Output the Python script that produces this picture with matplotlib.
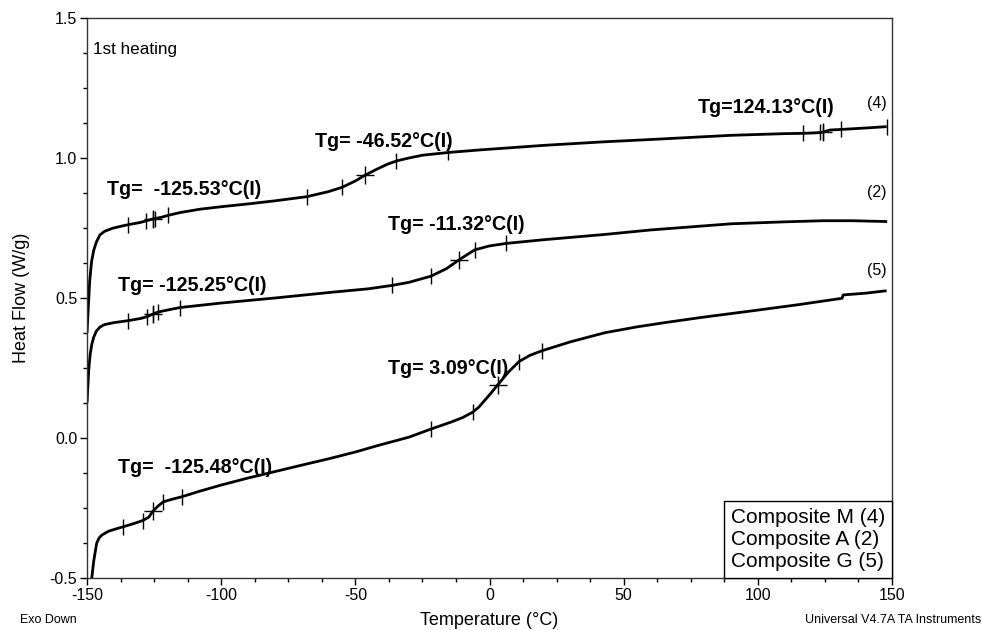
import numpy as np
import matplotlib
matplotlib.use("Agg")
import matplotlib.pyplot as plt
from matplotlib.ticker import MultipleLocator
from matplotlib.offsetbox import AnchoredText

plt.rcParams['font.family'] = ['Liberation Sans', 'DejaVu Sans']

# ---- data ----
T_M = [-150.0, -149.6, -149.0, -148.3, -147.5, -146.5, -145.2, -143.5, -140.5, -137.0,
       -134.0, -130.0, -127.5, -125.5, -122.0, -119.8, -115.4, -108, -100, -90, -80, -68,
       -60, -55, -50, -46.5, -42, -38, -34.5, -30, -25, -20, -15, -3.4, 4, 20, 43,
       60, 90, 110, 116.7, 122, 124, 127, 131, 140, 148]
HF_M = [0.375, 0.45, 0.56, 0.63, 0.67, 0.70, 0.725, 0.738, 0.749, 0.757,
        0.763, 0.770, 0.777, 0.782, 0.789, 0.795, 0.805, 0.817, 0.826, 0.836, 0.847, 0.862,
        0.880, 0.895, 0.918, 0.938, 0.960, 0.978, 0.990, 1.000, 1.010, 1.015, 1.020, 1.029, 1.034,
        1.045, 1.058, 1.066, 1.081, 1.087, 1.088, 1.090, 1.092, 1.100, 1.102, 1.107, 1.112]

T_A = [-150.0, -149.7, -149.3, -148.8, -148.2, -147.5, -146.5, -145.2, -143.5, -140, -134.7,
       -130, -127.7, -125.3, -123.5, -120, -115.3, -100, -80, -59.4, -45, -36.3, -30, -21.8,
       -16, -11.1, -5.5, 0, 6.3, 20, 43, 60, 90, 110, 124.3, 135, 148.2]
HF_A = [0.125, 0.18, 0.25, 0.30, 0.335, 0.36, 0.382, 0.396, 0.405, 0.412, 0.419,
        0.427, 0.433, 0.443, 0.450, 0.457, 0.466, 0.482, 0.500, 0.520, 0.533, 0.545, 0.556, 0.578,
        0.605, 0.638, 0.672, 0.686, 0.695, 0.708, 0.727, 0.743, 0.765, 0.772, 0.776,
        0.776, 0.773]

T_G = [-148.8, -148.3, -147.5, -146.4, -145.5, -144.5, -142, -139, -136.5, -133, -129.3,
       -127, -125.5, -123.5, -121.6, -118, -114.7, -108, -100, -90, -80, -70, -59.4, -50,
       -40.9, -30, -21.8, -14, -10, -6.3, -4, -2, 0, 3.0, 7, 11, 15, 20, 30, 43, 55, 66,
       80, 97, 115, 131.4, 131.8, 140, 148]
HF_G = [-0.55, -0.507, -0.44, -0.376, -0.357, -0.347, -0.333, -0.324, -0.317, -0.307, -0.295,
        -0.283, -0.262, -0.243, -0.228, -0.218, -0.210, -0.190, -0.168, -0.143, -0.120, -0.097,
        -0.073, -0.050, -0.025, 0.003, 0.032, 0.058, 0.073, 0.092, 0.110, 0.132, 0.154, 0.189,
        0.235, 0.273, 0.295, 0.313, 0.343, 0.376, 0.397, 0.413, 0.432, 0.453, 0.476, 0.499,
        0.511, 0.517, 0.526]

# analysis marks (temperatures) and Tg midpoints
ticks_M = [-134.6, -128.1, -125.3, -124.6, -119.7, -67.9, -54.8, -34.8, -15.3, 116.7, 123.2, 124.2, 130.9, 148]
tg_M = [-125.53, -46.52, 124.13]
ticks_A = [-134.6, -127.8, -125.3, -123.5, -115.3, -36.3, -21.8, -5.5, 6.1]
tg_A = [-125.25, -11.32]
ticks_G = [-136.5, -129.3, -121.6, -114.7, -21.8, -6.3, 11, 19.7]
tg_G = [-125.48, 3.09]

tg_labels = ["Tg=  -125.53°C(I)", "Tg= -46.52°C(I)", "Tg=124.13°C(I)",
             "Tg= -125.25°C(I)", "Tg= -11.32°C(I)",
             "Tg=  -125.48°C(I)", "Tg= 3.09°C(I)"]
tg_label_x = [-142.5, -65, 77.5, -138.5, -38, -138.5, -38]
tg_label_y = [0.886, 1.06, 1.18, 0.546, 0.764, -0.104, 0.25]

curve_ids = ["(4)", "(2)", "(5)"]
curve_id_y = [1.193, 0.875, 0.60]
legend_lines = ["Composite M (4)", "Composite A (2)", "Composite G (5)"]

# ---- figure ----
fig = plt.figure(figsize=(9.82, 6.30), dpi=100)
ax = fig.add_axes([87/982, 1-578/630, (892-87)/982, (578-18)/630])

for T, HF, tk, tg in [(T_M, HF_M, ticks_M, tg_M), (T_A, HF_A, ticks_A, tg_A), (T_G, HF_G, ticks_G, tg_G)]:
    ax.plot(T, HF, color='black', lw=2.0, solid_capstyle='butt')
    ax.plot(tk, np.interp(tk, T, HF), ls='none', marker='|', ms=12, mew=1.0, color='black')
    ax.plot(tg, np.interp(tg, T, HF), ls='none', marker='+', ms=13, mew=1.0, color='black')

for s, x, y in zip(tg_labels, tg_label_x, tg_label_y):
    ax.text(x, y, s, fontsize=14.2, fontweight='bold', ha='left', va='center')

for s, y in zip(curve_ids, curve_id_y):
    ax.text(148, y, s, fontsize=11.5, ha='right', va='center')

ax.text(-147.8, 1.386, "1st heating", fontsize=12.3, ha='left', va='center')

at = AnchoredText("\n".join(legend_lines), loc='lower right', frameon=True,
                  borderpad=0.0, pad=0.33, prop=dict(size=15, linespacing=1.2))
at.patch.set_edgecolor('black')
at.patch.set_linewidth(1.0)
at.patch.set_boxstyle('square,pad=0')
ax.add_artist(at)

ax.set_xlim(-150, 150)
ax.set_ylim(-0.5, 1.5)
ax.xaxis.set_major_locator(MultipleLocator(50))
ax.xaxis.set_minor_locator(MultipleLocator(12.5))
ax.yaxis.set_major_locator(MultipleLocator(0.5))
ax.yaxis.set_minor_locator(MultipleLocator(0.125))
ax.yaxis.set_major_formatter(matplotlib.ticker.FormatStrFormatter('%.1f'))
ax.xaxis.set_major_formatter(matplotlib.ticker.FormatStrFormatter('%d'))
ax.tick_params(which='major', length=5, width=1, labelsize=11.5, direction='out', pad=2)
ax.tick_params(which='minor', length=3, width=1, direction='out')
for sp in ax.spines.values():
    sp.set_linewidth(1.0)
    sp.set_color('#333333')

ax.set_xlabel("Temperature (°C)", fontsize=13, labelpad=7)
ax.set_ylabel("Heat Flow (W/g)", fontsize=13, labelpad=14)

fig.text(20/982, 1-620/630, "Exo Down", fontsize=9, ha='left', va='center')
fig.text(981/982, 1-620/630, "Universal V4.7A TA Instruments", fontsize=9, ha='right', va='center')

fig.savefig("out.png", dpi=100)
